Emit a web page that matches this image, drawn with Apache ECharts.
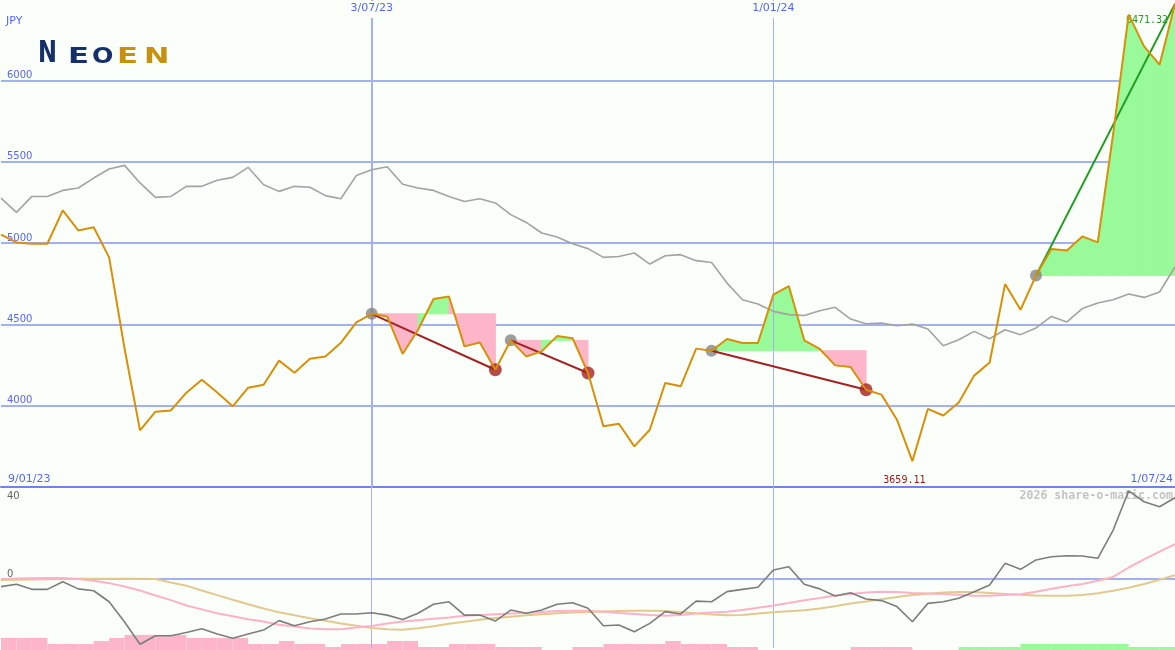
<!DOCTYPE html>
<html>
<head>
<meta charset="utf-8">
<script src="https://cdn.jsdelivr.net/npm/echarts@6/dist/echarts.min.js"></script>
<style>
html,body{margin:0;padding:0;background:#fafffa;}
#c{width:1175px;height:650px;}
</style>
</head>
<body>
<div id="c"></div>
<script>
// ---- data (weekly) ----
const dates = ['16/01/23','23/01/23','30/01/23','6/02/23','13/02/23','20/02/23','27/02/23','6/03/23','13/03/23','20/03/23',
 '27/03/23','3/04/23','10/04/23','17/04/23','24/04/23','1/05/23','8/05/23','15/05/23','22/05/23','29/05/23',
 '5/06/23','12/06/23','19/06/23','26/06/23','3/07/23','10/07/23','17/07/23','24/07/23','31/07/23','7/08/23',
 '14/08/23','21/08/23','28/08/23','4/09/23','11/09/23','18/09/23','25/09/23','2/10/23','9/10/23','16/10/23',
 '23/10/23','30/10/23','6/11/23','13/11/23','20/11/23','27/11/23','4/12/23','11/12/23','18/12/23','25/12/23',
 '1/01/24','8/01/24','15/01/24','22/01/24','29/01/24','5/02/24','12/02/24','19/02/24','26/02/24','4/03/24',
 '11/03/24','18/03/24','25/03/24','1/04/24','8/04/24','15/04/24','22/04/24','29/04/24','6/05/24','13/05/24',
 '20/05/24','27/05/24','3/06/24','10/06/24','17/06/24','24/06/24','1/07/24'];

const price = [5052,5004,4996,4996,5201,5078,5097,4912,4350,3848,
 3963,3971,4080,4160,4081,3996,4111,4129,4277,4203,
 4289,4303,4387,4512,4565,4549,4318,4467,4656,4672,
 4365,4389,4221,4402,4303,4334,4428,4415,4201,3873,
 3889,3750,3852,4140,4119,4351,4338,4410,4386,4386,
 4683,4736,4402,4349,4248,4238,4098,4068,3914,3659.11,
 3980,3940,4020,4185,4266,4748,4590,4800,4964,4955,
 5041,5004,5673,6405,6210,6097,6471.32];

const priceAvg = [5277,5189,5287,5287,5324,5339,5400,5456,5478,5370,
 5281,5287,5349,5349,5386,5404,5466,5359,5318,5349,
 5343,5292,5273,5415,5451,5470,5362,5339,5324,5287,
 5256,5273,5247,5175,5127,5062,5038,4996,4966,4912,
 4918,4939,4871,4922,4929,4892,4881,4754,4652,4625,
 4580,4560,4555,4584,4605,4533,4504,4509,4492,4502,
 4472,4369,4406,4457,4412,4467,4437,4478,4549,4515,
 4597,4632,4652,4687,4666,4699,4853];

const osc = [-3.3,-2.3,-4.5,-4.5,-1.2,-4.3,-5.1,-9.9,-18.7,-28.4,
 -24.7,-24.7,-23.3,-21.6,-23.9,-25.8,-23.9,-22.2,-18.1,-20.3,
 -18.6,-17.4,-15.2,-15.2,-14.7,-15.7,-17.6,-14.9,-11.0,-9.9,
 -15.7,-15.7,-18.3,-13.5,-14.9,-13.5,-11.0,-10.3,-12.7,-20.3,
 -20.0,-22.9,-19.3,-14.2,-15.2,-9.6,-9.9,-5.5,-4.5,-3.6,
 3.9,5.3,-2.3,-4.3,-7.4,-6.0,-8.7,-9.4,-12.0,-18.6,
 -10.6,-9.9,-8.4,-5.5,-2.6,6.8,4.2,8.3,9.7,10.1,
 10.0,9.0,21.3,38.3,33.6,31.4,35.3];

const oscPink = [0,0.2,0.3,0.4,0.4,0,-0.8,-1.8,-3.3,-5.0,
 -7.2,-9.2,-11.5,-13.2,-14.9,-16.2,-17.5,-18.5,-19.9,-20.7,
 -21.5,-21.9,-21.8,-21.1,-20.4,-19.3,-18.5,-17.9,-17.3,-16.7,
 -16.0,-15.6,-15.3,-15.0,-14.8,-14.3,-13.9,-13.8,-13.8,-14.2,
 -14.8,-15.2,-15.7,-16.0,-15.7,-15.0,-14.6,-14.2,-13.5,-12.5,
 -11.5,-10.4,-9.2,-8.3,-7.2,-6.5,-5.9,-5.5,-5.7,-6.1,
 -6.3,-6.5,-6.9,-7.3,-7.3,-7.0,-6.6,-5.5,-4.2,-3.2,
 -2.2,-0.8,0.9,5.0,8.5,11.9,15.2];

const oscTan = [-0.4,-0.3,-0.2,-0.1,0,0.1,0.1,0.1,0.1,0.1,
 0,-1.5,-2.9,-5.0,-7.0,-9.0,-11.0,-12.8,-14.5,-15.8,
 -17.1,-18.2,-19.3,-20.3,-21.3,-21.9,-22.1,-21.4,-20.5,-19.5,
 -18.6,-17.7,-17.0,-16.4,-15.8,-15.3,-14.9,-14.6,-14.3,-14.1,
 -13.9,-13.8,-13.8,-13.9,-14.3,-14.9,-15.4,-15.8,-15.6,-15.0,
 -14.5,-14.0,-13.6,-12.8,-11.8,-10.7,-9.8,-8.8,-7.8,-7.0,
 -6.4,-5.9,-5.6,-5.7,-6.1,-6.5,-6.9,-7.2,-7.3,-7.3,
 -7.0,-6.2,-5.1,-3.8,-2.2,-0.3,1.7];

// weekly histogram (one bar per week interval)
const histDown = [4,4,4,2,2,2,3,4,5,5,
 5,5,4,4,4,4,2,2,3,2,
 2,1,2,2,2,3,3,1,1,2,
 2,2,1,1,1,0,0,1,1,2,
 2,2,2,3,2,2,2,1,1,0,
 0,0,0,0,0,1,1,1,1,0,
 0,0,0,0,0,0,0,0,0,0,
 0,0,0,0,0,0];
const histUp = [0,0,0,0,0,0,0,0,0,0,
 0,0,0,0,0,0,0,0,0,0,
 0,0,0,0,0,0,0,0,0,0,
 0,0,0,0,0,0,0,0,0,0,
 0,0,0,0,0,0,0,0,0,0,
 0,0,0,0,0,0,0,0,0,0,
 0,0,1,1,1,1,2,2,2,2,
 2,2,2,1,1,1];

// trend signals (week indices)
const signalStart = [24,33,46,67];
const signalEnd = [32,38,56,76];
const priceTicks = [4000,4500,5000,5500,6000];
const oscTicks = [40,0,-30];
const verticalDates = ['3/07/23','1/01/24'];

// ---- styles ----
const BG = '#fafffa';
const GRIDC = '#a3b0f2';
const BLUE_TXT = '#5567f0';
const GREEN = '#98fa98';
const PINK = '#fdb5c9';

const intervals = dates.slice(0, dates.length - 1);

const fills = [];
signalStart.forEach((a, s) => {
  const b = signalEnd[s], L = price[a];
  for (let i = a; i < b; i++) fills.push([i, L, price[i], price[i + 1], price[i + 1] >= L ? 1 : 0]);
});

const lastIdx = signalStart.length - 1;
const trendSeries = signalStart.map((a, s) => ({
  type: 'line', xAxisIndex: 0, yAxisIndex: 0, z: 8, silent: true,
  data: [[a, price[a]], [signalEnd[s], price[signalEnd[s]]]],
  showSymbol: false, symbol: 'none',
  lineStyle: { color: s === lastIdx ? '#1f9c1f' : '#a52222', width: 2 }
}));

const chart = echarts.init(document.getElementById('c'));
chart.setOption({
  backgroundColor: BG,
  animation: false,
  grid: [
    { left: 1, right: 0, top: 0, height: 487 },
    { left: 1, right: 0, top: 487, height: 161 },
    { left: 1, right: 0, top: 487, height: 163 }
  ],
  xAxis: [
    { gridIndex: 0, type: 'category', data: dates, boundaryGap: false,
      axisLine: { show: true, onZero: false, lineStyle: { color: '#7182f0', width: 2 } },
      axisTick: { show: false }, axisLabel: { show: false }, splitLine: { show: false } },
    { gridIndex: 0, type: 'category', data: dates, boundaryGap: false, position: 'top', z: 10,
      axisLine: { show: false }, axisTick: { show: false }, splitLine: { show: false },
      axisLabel: { inside: true, margin: 1, interval: (i, v) => verticalDates.indexOf(v) >= 0,
        color: BLUE_TXT, fontSize: 11, fontFamily: 'DejaVu Sans', backgroundColor: BG,
        padding: [1, 2, 3, 2], lineHeight: 13 } },
    { gridIndex: 1, type: 'category', data: dates, boundaryGap: false, show: false },
    { gridIndex: 2, type: 'category', data: intervals, boundaryGap: true, show: false }
  ],
  yAxis: [
    { gridIndex: 0, type: 'value', min: 3500, max: 6495, interval: 500,
      axisLine: { show: false }, axisTick: { show: false },
      axisLabel: { inside: true, margin: 6, verticalAlign: 'bottom', showMinLabel: false, showMaxLabel: false,
        formatter: v => priceTicks.indexOf(v) >= 0 ? String(v) : '',
        color: BLUE_TXT, fontSize: 10, fontFamily: 'DejaVu Sans' },
      splitLine: { show: true, showMaxLine: false, lineStyle: { color: GRIDC, width: 2 } } },
    { gridIndex: 1, type: 'value', position: 'left', min: -30, max: 40, interval: 10,
      axisLine: { show: false }, axisTick: { show: false }, splitLine: { show: false },
      axisLabel: { inside: true, margin: 6, verticalAlign: 'bottom',
        formatter: v => (v !== 40 && oscTicks.indexOf(v) >= 0) ? String(v) : '',
        color: '#666', fontSize: 10, fontFamily: 'DejaVu Sans' } },
    { gridIndex: 1, type: 'value', position: 'left', min: -30, max: 40, interval: 10,
      axisLine: { show: false }, axisTick: { show: false }, splitLine: { show: false },
      axisLabel: { inside: true, margin: 6, verticalAlign: 'top', padding: [4, 0, 0, 0],
        formatter: v => v === 40 ? String(v) : '',
        color: '#666', fontSize: 10, fontFamily: 'DejaVu Sans' } },
    { gridIndex: 2, type: 'value', min: 0, max: 54, show: false }
  ],
  series: [
    // shaded areas between price and signal level
    { type: 'custom', xAxisIndex: 0, yAxisIndex: 0, z: 2, silent: true,
      data: fills, encode: { x: 0, y: 1 },
      renderItem: (params, api) => {
        const i = api.value(0), L = api.value(1);
        const pts = [api.coord([i, L]), api.coord([i, api.value(2)]), api.coord([i + 1, api.value(3)]), api.coord([i + 1, L])];
        const c = api.value(4) ? GREEN : PINK;
        return { type: 'polygon', shape: { points: pts }, style: { fill: c, stroke: c, lineWidth: 1 } };
      },
      markLine: { silent: true, symbol: 'none', label: { show: false },
        lineStyle: { color: GRIDC, type: 'solid' },
        data: [{ xAxis: verticalDates[0], lineStyle: { width: 2 } }, { xAxis: verticalDates[1], lineStyle: { width: 1 } }] } },
    { type: 'line', xAxisIndex: 0, yAxisIndex: 0, z: 6, silent: true, data: priceAvg,
      showSymbol: false, symbol: 'none', lineStyle: { color: '#a3a3a3', width: 1.6 } },
    { type: 'scatter', xAxisIndex: 0, yAxisIndex: 0, z: 7, silent: true, symbolSize: 12,
      itemStyle: { color: '#858585' }, data: signalStart.map(a => [a, price[a]]) },
    { type: 'scatter', xAxisIndex: 0, yAxisIndex: 0, z: 7, silent: true, symbolSize: 13,
      itemStyle: { color: '#a51f1f' }, data: signalEnd.slice(0, lastIdx).map(b => [b, price[b]]) },
    ...trendSeries,
    { type: 'line', xAxisIndex: 0, yAxisIndex: 0, z: 9, silent: true, data: price,
      showSymbol: false, symbol: 'none', lineStyle: { color: '#d8900a', width: 2 },
      markPoint: { symbol: 'rect', symbolSize: 2, itemStyle: { color: 'rgba(0,0,0,0)' }, silent: true,
        data: [
          { type: 'min', label: { show: true, position: 'inside', offset: [-8, 19], color: '#a01818',
              fontFamily: 'DejaVu Sans Mono', fontSize: 10, formatter: p => p.value.toFixed(2) } },
          { type: 'max', label: { show: true, position: 'inside', offset: [-28, 17], color: '#239a23',
              fontFamily: 'DejaVu Sans Mono', fontSize: 10, formatter: p => p.value.toFixed(2) } }
        ] } },
    // lower panel
    { type: 'bar', xAxisIndex: 3, yAxisIndex: 3, stack: 'h', barCategoryGap: '0%', z: 2, silent: true,
      data: histDown, itemStyle: { color: PINK } },
    { type: 'bar', xAxisIndex: 3, yAxisIndex: 3, stack: 'h', barCategoryGap: '0%', z: 2, silent: true,
      data: histUp, itemStyle: { color: GREEN } },
    { type: 'line', xAxisIndex: 2, yAxisIndex: 1, z: 6, silent: true, data: oscTan,
      showSymbol: false, symbol: 'none', lineStyle: { color: '#e3c98f', width: 2 } },
    { type: 'line', xAxisIndex: 2, yAxisIndex: 1, z: 6, silent: true, data: oscPink,
      showSymbol: false, symbol: 'none', lineStyle: { color: '#fdb2c7', width: 2 } },
    { type: 'line', xAxisIndex: 2, yAxisIndex: 1, z: 7, silent: true, data: osc,
      showSymbol: false, symbol: 'none', lineStyle: { color: '#7d7d7d', width: 1.6 },
      markLine: { silent: true, symbol: 'none', label: { show: false },
        lineStyle: { color: GRIDC, type: 'solid', width: 1 },
        data: [{ yAxis: 0, lineStyle: { width: 2 } }, { xAxis: verticalDates[0] }, { xAxis: verticalDates[1] }] } }
  ],
  graphic: [
    { type: 'text', x: 6, y: 21, z: 10, silent: true, style: { text: 'JPY', fill: BLUE_TXT, fontSize: 11, fontFamily: 'DejaVu Sans', verticalAlign: 'middle' } },
    { type: 'text', x: 8, y: 479, z: 10, silent: true, style: { text: '9/01/23', fill: BLUE_TXT, fontSize: 11, fontFamily: 'DejaVu Sans', verticalAlign: 'middle' } },
    { type: 'text', x: 1173, y: 479, z: 10, silent: true, style: { text: '1/07/24', fill: BLUE_TXT, fontSize: 11, fontFamily: 'DejaVu Sans', verticalAlign: 'middle', align: 'right' } },
    { type: 'text', x: 1173, y: 496, z: 0, silent: true, style: { text: '2026 share-o-matic.com', fill: '#c4c4c4', fontSize: 11.6, fontWeight: 'bold', fontFamily: 'DejaVu Sans Mono', verticalAlign: 'middle', align: 'right' } },
    // logo
    { type: 'text', x: 38, y: 54, scaleX: 0.73, z: 10, silent: true, style: { text: 'N', fill: '#15306b', fontSize: 31, fontWeight: 'bold', fontFamily: 'DejaVu Sans', verticalAlign: 'middle' } },
    { type: 'text', x: 68, y: 57.5, scaleX: 1.5, z: 10, silent: true, style: { text: 'E', fill: '#15306b', fontSize: 20.5, fontWeight: 'bold', fontFamily: 'DejaVu Sans', verticalAlign: 'middle' } },
    { type: 'text', x: 92, y: 57.5, scaleX: 1.23, z: 10, silent: true, style: { text: 'O', fill: '#15306b', fontSize: 20.5, fontWeight: 'bold', fontFamily: 'DejaVu Sans', verticalAlign: 'middle' } },
    { type: 'text', x: 117, y: 57.5, scaleX: 1.5, z: 10, silent: true, style: { text: 'E', fill: '#c8900f', fontSize: 20.5, fontWeight: 'bold', fontFamily: 'DejaVu Sans', verticalAlign: 'middle' } },
    { type: 'text', x: 144, y: 57.5, scaleX: 1.48, z: 10, silent: true, style: { text: 'N', fill: '#c8900f', fontSize: 20.5, fontWeight: 'bold', fontFamily: 'DejaVu Sans', verticalAlign: 'middle' } }
  ]
});
</script>
</body>
</html>
